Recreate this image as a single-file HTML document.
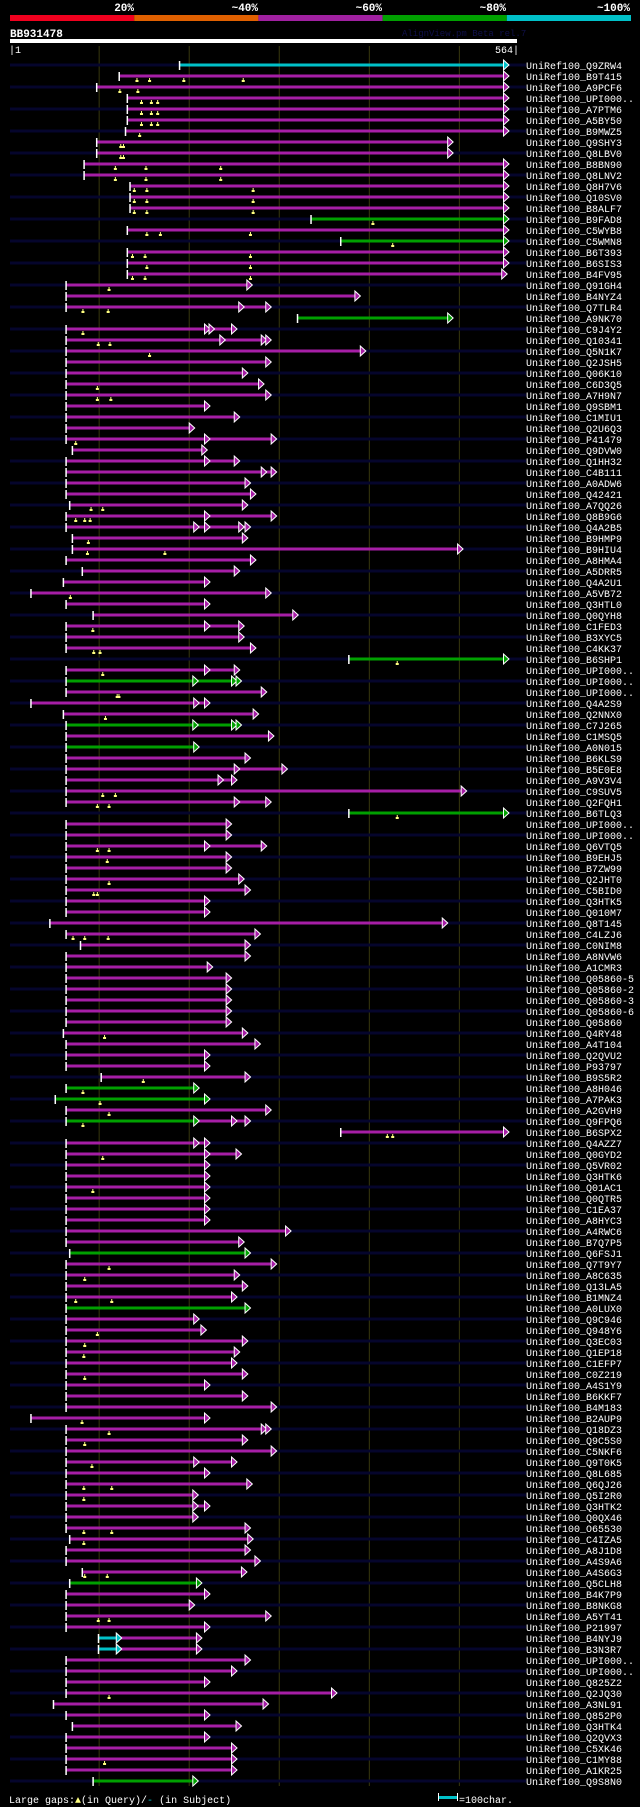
<!DOCTYPE html>
<html><head><meta charset="utf-8">
<style>
html,body{margin:0;padding:0;background:#000;}
svg{display:block;}
text{font-family:"Liberation Mono","DejaVu Sans Mono",monospace;}
</style></head>
<body>
<svg id="chart" width="640" height="1807" viewBox="0 0 640 1807" xmlns="http://www.w3.org/2000/svg">
<rect x="0" y="0" width="640" height="1807" fill="#000"/>
<g id="header">
  <rect x="10" y="15" width="124.2" height="6" fill="#f0001e"/>
  <rect x="134.2" y="15" width="124.2" height="6" fill="#e06000"/>
  <rect x="258.4" y="15" width="124.2" height="6" fill="#a020a0"/>
  <rect x="382.6" y="15" width="124.2" height="6" fill="#00a000"/>
  <rect x="506.8" y="15" width="124.2" height="6" fill="#00c0c8"/>
  <text x="134" y="11" fill="#fff" font-size="11" font-weight="bold" text-anchor="end">20%</text>
  <text x="258" y="11" fill="#fff" font-size="11" font-weight="bold" text-anchor="end">~40%</text>
  <text x="382" y="11" fill="#fff" font-size="11" font-weight="bold" text-anchor="end">~60%</text>
  <text x="506" y="11" fill="#fff" font-size="11" font-weight="bold" text-anchor="end">~80%</text>
  <text x="630" y="11" fill="#fff" font-size="11" font-weight="bold" text-anchor="end">~100%</text>
  <text x="10" y="37" fill="#fff" font-size="11" font-weight="bold">BB931478</text>
  <text x="402" y="36" fill="#10104a" font-size="9">AlignView.pm Beta rel.7</text>
  <rect x="10" y="39" width="507" height="4" fill="#fff"/>
  <text x="9" y="53" fill="#fff" font-size="10">|1</text>
  <text x="519" y="53" fill="#fff" font-size="10" text-anchor="end">564|</text>
</g>
<g id="grid"></g>
<g id="rows"></g>
<g id="footer">
  <text x="9" y="1803" fill="#fff" font-size="10">Large gaps:<tspan fill="#ffff80">▲</tspan>(in Query)/<tspan fill="#00c0c8">-</tspan> (in Subject)</text>
  <rect x="439" y="1796" width="18" height="3" fill="#00c0c8"/>
  <rect x="438" y="1793" width="1" height="8" fill="#fff"/>
  <rect x="457" y="1793" width="1" height="8" fill="#fff"/>
  <text x="459" y="1803" fill="#fff" font-size="10">=100char.</text>
</g>
</svg>
<script>
const names=["Q9ZRW4","B9T415","A9PCF6","UPI000..","A7PTM6","A5BY50","B9MWZ5","Q9SHY3","Q8LBV0","B8BN90","Q8LNV2","Q8H7V6","Q10SV0","B8ALF7","B9FAD8","C5WYB8","C5WMN8","B6T393","B6SIS3","B4FV95","Q91GH4","B4NYZ4","Q7TLR4","A9NK70","C9J4Y2","Q10341","Q5N1K7","Q2JSH5","Q06K10","C6D3Q5","A7H9N7","Q9SBM1","C1MIU1","Q2U6Q3","P41479","Q9DVW0","Q1HH32","C4B111","A0ADW6","Q42421","A7QQ26","Q8B9G6","Q4A2B5","B9HMP9","B9HIU4","A8HMA4","A5DRR5","Q4A2U1","A5VB72","Q3HTL0","Q0QYH8","C1FED3","B3XYC5","C4KK37","B6SHP1","UPI000..","UPI000..","UPI000..","Q4A2S9","Q2NNX0","C7J265","C1MSQ5","A0N015","B6KLS9","B5E0E8","A9V3V4","C9SUV5","Q2FQH1","B6TLQ3","UPI000..","UPI000..","Q6VTQ5","B9EHJ5","B7ZW99","Q2JHT0","C5BID0","Q3HTK5","Q010M7","Q8T145","C4LZJ6","C0NIM8","A8NVW6","A1CMR3","Q05860-5","Q05860-2","Q05860-3","Q05860-6","Q05860","Q4RY48","A4T104","Q2QVU2","P93797","B9S5R2","A8H046","A7PAK3","A2GVH9","Q9FPQ6","B6SPX2","Q4AZZ7","Q0GYD2","Q5VR02","Q3HTK6","Q01AC1","Q0QTR5","C1EA37","A8HYC3","A4RWC6","B7Q7P5","Q6FSJ1","Q7T9Y7","A8C635","Q13LA5","B1MNZ4","A0LUX0","Q9C946","Q948Y6","Q3EC03","Q1EP18","C1EFP7","C0Z219","A4S1Y9","B6KKF7","B4M183","B2AUP9","Q18DZ3","Q9C5S0","C5NKF6","Q9T0K5","Q8L685","Q6QJ26","Q5I2R0","Q3HTK2","Q0QX46","O65530","C4IZA5","A8J1D8","A4S9A6","A4S6G3","Q5CLH8","B4K7P9","B8NKG8","A5YT41","P21997","B4NYJ9","B3N3R7","UPI000..","UPI000..","Q825Z2","Q2JQ30","A3NL91","Q852P0","Q3HTK4","Q2QVX3","C5XK46","C1MY88","A1KR25","Q9S8N0"];
const starts=[189,122,97,131,131,131,129,97,97,83,83,134,134,134,335,131,368,131,131,131,63,63,63,320,63,63,63,63,63,63,63,63,63,63,63,70,63,63,63,63,67,63,63,70,70,63,81,60,24,63,93,63,63,63,377,63,63,63,24,60,63,63,63,63,63,63,63,63,377,63,63,63,63,63,63,63,63,63,45,63,79,63,63,63,63,63,63,63,60,63,63,63,102,63,51,63,63,368,63,63,63,63,63,63,63,63,63,63,67,63,63,63,63,63,63,63,63,63,63,63,63,63,63,24,63,63,63,63,63,63,63,63,63,63,67,63,63,81,67,63,63,63,63,99,99,63,63,63,63,49,63,70,63,63,63,63,93];
const ends=[[549],[549],[549],[549],[549],[549],[549],[487],[487],[549],[549],[549],[549],[549],[549],[549],[549],[549],[549],[547],[264],[384],[255,285],[487],[217,222,247],[234,280,285],[390],[285],[259],[277],[285],[217],[250],[200],[217,291],[214],[217,250],[280,291],[262],[268],[259],[217,291],[205,217,255,262],[259],[498],[268],[250],[217],[285],[217],[315],[217,255],[255],[268],[549],[217,250],[204,247,252],[280],[205,217],[271],[204,247,252],[288],[205],[262],[250,303],[232,247],[502],[250,285],[549],[241],[241],[217,280],[241],[241],[255],[262],[217],[217],[481],[273],[262],[262],[220],[241],[241],[241],[241],[241],[259],[273],[217],[217],[262],[205],[217],[285],[205,247,262],[549],[205,217],[217,252],[217],[217],[217],[217],[217],[217],[307],[255],[262],[291],[250],[259],[247],[262],[205],[213],[259],[250],[247],[259],[217],[259],[291],[217],[280,285],[259],[291],[205,247],[217],[264],[204],[204,217],[204],[262],[265],[262],[273],[258],[208],[217],[200],[285],[217],[119,208],[119,208],[262],[247],[217],[358],[282],[217],[252],[217],[247],[247],[247],[204]];
const colorOverrides={0:["c"],14:["g"],16:["g"],23:["g"],54:["g"],56:["g","g","g"],60:["g","g","g"],62:["g"],68:["g"],93:["g"],94:["g"],96:["g","m","m"],108:["g"],113:["g"],138:["g"],143:["c","m"],144:["c","m"],156:["g"]};
const gapMarks=[[],[142,156,194,260],[123,143],[147,158,165],[147,158,165],[147,158,165],[145],[124,127],[124,127],[118,152,235],[118,152,235],[139,153,271],[139,153,271],[139,153,271],[404],[153,168,268],[426],[137,151,268],[153,268],[137,151,268],[111],[],[82,110],[],[82],[99,112],[156],[],[],[98],[98,113],[],[],[],[74],[],[],[],[],[],[91,104],[74,84,90],[],[88],[87,173],[],[],[],[68],[],[],[93],[],[94,101],[431],[104],[],[120,122],[],[107],[],[],[],[],[],[],[104,118],[98,111],[431],[],[],[98,111],[109],[],[111],[94,98],[],[],[],[71,84,110],[],[],[],[],[],[],[],[],[106],[],[],[],[149],[82],[101],[111],[82],[420,426],[],[104],[],[],[93],[],[],[],[],[],[],[111],[84],[],[74,114],[],[],[98],[84],[83],[],[84],[],[],[],[81],[111],[84],[],[92],[],[83,114],[83],[],[],[83,114],[83],[],[],[84,109],[],[],[],[99,111],[],[],[],[],[],[],[111],[],[],[],[],[],[106],[],[],[]];
const gridTicks=[100,200,300,400,500];

const NS="http://www.w3.org/2000/svg";
const X0=10, X1=517, QLEN=564;
function xScale(p){return X0+(p-1)*(X1-X0)/(QLEN-1);}
function yRow(i){return 65+11*i;}
const colorMap={m:"#a61ea6",g:"#00a000",c:"#00c0c8"};
function mk(tag,attrs,parent){const e=document.createElementNS(NS,tag);for(const k in attrs)e.setAttribute(k,attrs[k]);parent.appendChild(e);return e;}

const grid=document.getElementById('grid');
gridTicks.forEach(t=>{
  const l=mk('line',{x1:xScale(t),x2:xScale(t),y1:46,y2:1786,stroke:"#38380e","stroke-width":1},grid);
  
  
});

const rows=document.getElementById('rows');
names.forEach((nm,i)=>{
  const y=yRow(i);
  const g=mk('g',{},rows);
  
  
  if(i%2===0){
    const bg=mk('rect',{x:10,y:y-1.5,width:516,height:3,fill:"#05052c"},g);
    
    
  }
  let prev=starts[i];
  const es=ends[i]||[];
  const cs=colorOverrides[i]||es.map(()=>"m");
  es.forEach((e,k)=>{
    const c=colorMap[cs[k]||"m"];
    const b=mk('rect',{x:xScale(prev),y:y-1.5,width:Math.max(0,xScale(e)-xScale(prev)),height:3,fill:c},g);
    
    
    prev=e;
  });
  const tk=mk('rect',{x:xScale(starts[i])-0.5,y:y-4,width:1.5,height:9,fill:"#fff"},g);
  
  
  es.forEach((e,k)=>{
    const x=xScale(e), c=colorMap[cs[k]||"m"];
    const a=mk('polygon',{points:`${x},${y-5} ${x+5.5},${y} ${x},${y+5}`,fill:c,stroke:"#fff","stroke-width":1},g);
    
    
  });
  (gapMarks[i]||[]).forEach(p=>{
    const x=xScale(p);
    const m=mk('path',{d:`M${x-0.5},${y+2}h1v2h1v2h-3v-2h1z`,fill:"#ffff80"},g);
    
    
  });
  const t=mk('text',{x:526,y:y+4,fill:"#fff","font-size":10},g);
  t.textContent="UniRef100_"+nm;
  
  
});
</script>
</body></html>
